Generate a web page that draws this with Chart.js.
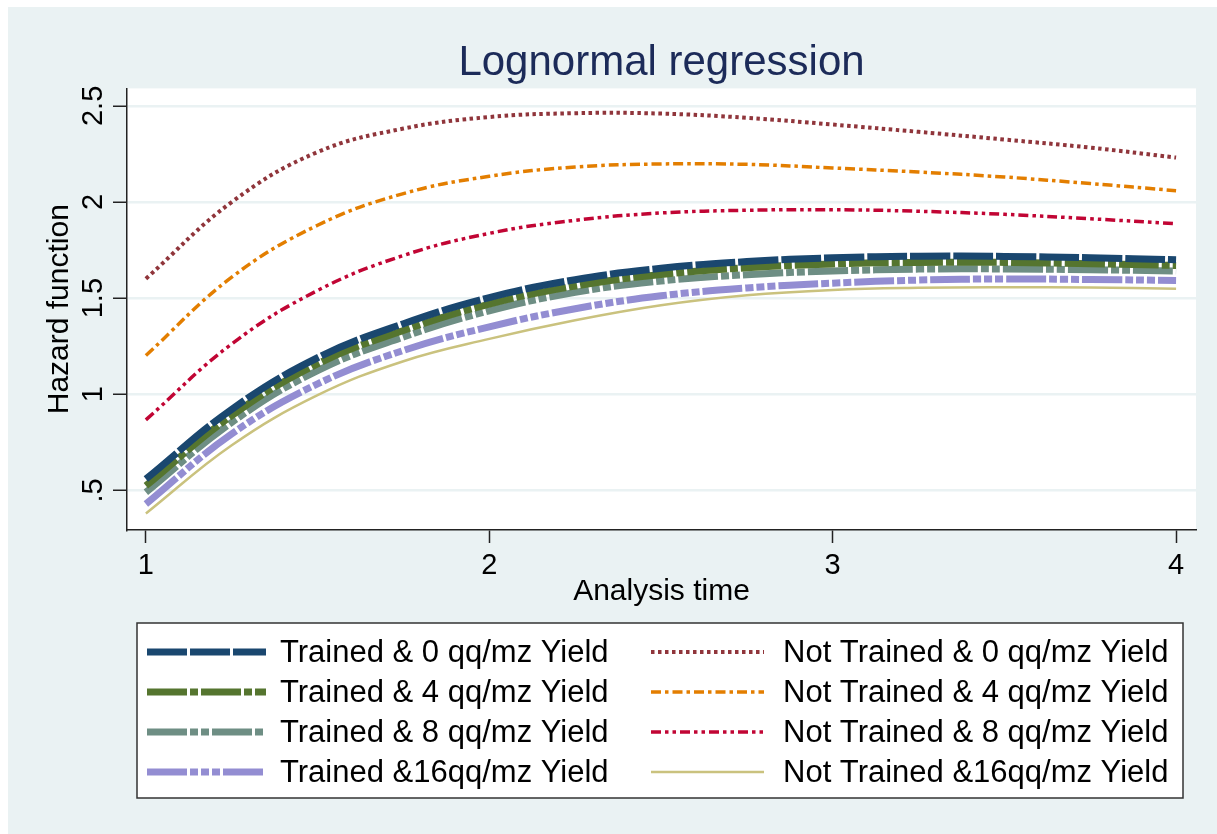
<!DOCTYPE html>
<html>
<head>
<meta charset="utf-8">
<title>Lognormal regression</title>
<script src="https://cdn.jsdelivr.net/npm/chart.js@4/dist/chart.umd.min.js"></script>
<style>
  html, body { margin: 0; padding: 0; background: #fff; }
  canvas { display: block; }
</style>
</head>
<body>
<canvas id="hazardChart" width="1217" height="834"></canvas>
<script>
// analysis time grid the curves were read at
const times = [1, 1.25, 1.5, 1.75, 2, 2.25, 2.5, 2.75, 3, 3.25, 3.5, 3.75, 4];

// hazard function, trained farmers
const trained0  = [0.559, 0.922, 1.190, 1.367, 1.503, 1.596, 1.655, 1.690, 1.710, 1.718, 1.717, 1.710, 1.700];
const trained4  = [0.524, 0.889, 1.158, 1.332, 1.469, 1.563, 1.623, 1.658, 1.678, 1.686, 1.686, 1.679, 1.670];
const trained8  = [0.490, 0.854, 1.123, 1.298, 1.434, 1.530, 1.589, 1.622, 1.641, 1.651, 1.652, 1.648, 1.641];
const trained16 = [0.429, 0.794, 1.054, 1.228, 1.351, 1.445, 1.512, 1.553, 1.578, 1.594, 1.600, 1.597, 1.592];

// hazard function, farmers not trained
const notTrained0  = [1.601, 2.000, 2.260, 2.382, 2.442, 2.462, 2.460, 2.438, 2.403, 2.365, 2.325, 2.283, 2.231];
const notTrained4  = [1.202, 1.609, 1.879, 2.044, 2.134, 2.182, 2.198, 2.196, 2.177, 2.156, 2.130, 2.096, 2.059];
const notTrained8  = [0.867, 1.262, 1.540, 1.722, 1.837, 1.905, 1.943, 1.957, 1.960, 1.952, 1.936, 1.913, 1.887];
const notTrained16 = [0.380, 0.735, 0.995, 1.172, 1.288, 1.385, 1.463, 1.515, 1.543, 1.554, 1.557, 1.556, 1.549];

const seriesNames = [
  'Trained & 0 qq/mz Yield', 'Trained & 4 qq/mz Yield', 'Trained & 8 qq/mz Yield', 'Trained &16qq/mz Yield',
  'Not Trained & 0 qq/mz Yield', 'Not Trained & 4 qq/mz Yield', 'Not Trained & 8 qq/mz Yield', 'Not Trained &16qq/mz Yield'
];

const xTickVals = [1, 2, 3, 4];
const xTickLabels = ['1', '2', '3', '4'];
const yTickVals = [0.5, 1, 1.5, 2, 2.5];
const yTickLabels = ['.5', '1', '1.5', '2', '2.5'];

const FONT = 'Liberation Sans, Arial, Helvetica, sans-serif';
const REGION_BG = '#eaf2f3';

Chart.defaults.font.family = FONT;
Chart.defaults.color = '#000';

function line(label, data, color, width, dash) {
  return {
    label: label,
    data: data,
    borderColor: color,
    backgroundColor: color,
    borderWidth: width,
    borderDash: dash,
    borderCapStyle: 'butt',
    pointRadius: 0,
    fill: false,
    tension: 0.4
  };
}

const datasets = [
  line(seriesNames[0], trained0,  '#1a476f', 7, [40, 3]),
  line(seriesNames[1], trained4,  '#55752f', 7, [40, 3, 8, 3]),
  line(seriesNames[2], trained8,  '#6e8e84', 7, [40, 3, 8, 3, 8, 3]),
  line(seriesNames[3], trained16, '#938dd2', 7, [40, 3, 8, 3, 8, 3, 8, 3]),
  line(seriesNames[4], notTrained0,  '#90353b', 4, [3.5, 3.5]),
  line(seriesNames[5], notTrained4,  '#e37e00', 3.5, [10, 4, 3.5, 4]),
  line(seriesNames[6], notTrained8,  '#c10534', 3.5, [10, 4, 3.5, 4, 3.5, 4]),
  line(seriesNames[7], notTrained16, '#cac27e', 2.5, [])
];

// background of the graph region and the white plot region
const backdrop = {
  id: 'backdrop',
  beforeDraw(chart) {
    const { ctx, chartArea: a } = chart;
    ctx.save();
    ctx.fillStyle = '#fff';
    ctx.fillRect(0, 0, chart.width, chart.height);
    ctx.fillStyle = REGION_BG;
    ctx.fillRect(8, 7, chart.width - 8, chart.height - 7);
    ctx.fillStyle = '#fff';
    ctx.fillRect(a.left, a.top, a.right - a.left, a.bottom - a.top);
    ctx.restore();
  }
};

// rotated y tick labels, Stata style
const yLabels = {
  id: 'yLabels',
  afterDraw(chart) {
    const { ctx, scales } = chart;
    const y = scales.y;
    ctx.save();
    ctx.fillStyle = '#000';
    ctx.font = '29px ' + FONT;
    ctx.textAlign = 'center';
    ctx.textBaseline = 'alphabetic';
    yTickVals.forEach((v, i) => {
      ctx.save();
      ctx.translate(102, y.getPixelForValue(v));
      ctx.rotate(-Math.PI / 2);
      ctx.fillText(yTickLabels[i], 0, 0);
      ctx.restore();
    });
    ctx.restore();
  }
};

// two-column legend box under the plot
const boxLegend = {
  id: 'boxLegend',
  afterDraw(chart) {
    const { ctx } = chart;
    const box = { left: 137, top: 623, right: 1183, bottom: 798 };
    const rows = [652, 692, 732, 772];
    const cols = [
      { x0: 147, x1: 266, text: 280 },
      { x0: 651, x1: 764, text: 783 }
    ];
    ctx.save();
    ctx.fillStyle = '#fff';
    ctx.fillRect(box.left, box.top, box.right - box.left, box.bottom - box.top);
    ctx.strokeStyle = '#333';
    ctx.lineWidth = 1.5;
    ctx.strokeRect(box.left, box.top, box.right - box.left, box.bottom - box.top);

    ctx.font = '31px ' + FONT;
    ctx.textBaseline = 'middle';
    ctx.textAlign = 'left';
    chart.data.datasets.forEach((ds, i) => {
      const col = cols[Math.floor(i / 4)];
      const yy = rows[i % 4];
      ctx.beginPath();
      ctx.setLineDash(ds.borderDash);
      ctx.lineCap = 'butt';
      ctx.lineWidth = ds.borderWidth;
      ctx.strokeStyle = ds.borderColor;
      ctx.moveTo(col.x0, yy);
      ctx.lineTo(col.x1, yy);
      ctx.stroke();
      ctx.setLineDash([]);
      ctx.fillStyle = '#000';
      ctx.fillText(ds.label, col.text, yy + 1);
    });
    ctx.restore();
  }
};

new Chart(document.getElementById('hazardChart'), {
  type: 'line',
  data: { labels: times, datasets: datasets },
  plugins: [backdrop, yLabels, boxLegend],
  options: {
    responsive: false,
    animation: false,
    events: [],
    layout: { padding: { left: 42, right: 21, top: 7, bottom: 224 } },
    plugins: {
      legend: { display: false },
      tooltip: { enabled: false },
      title: {
        display: true,
        text: 'Lognormal regression',
        fullSize: false,
        color: '#1c2b59',
        font: { size: 42, weight: 'normal' },
        padding: { top: 31, bottom: 0 }
      }
    },
    scales: {
      x: {
        type: 'linear',
        min: 0.945,
        max: 4.058,
        afterBuildTicks: s => { s.ticks = xTickVals.map(v => ({ value: v })); },
        afterFit: s => { s.height = 80; },
        grid: { drawOnChartArea: false, drawTicks: true, tickLength: 13, tickColor: '#222', tickWidth: 1.5 },
        border: { color: '#222', width: 1.5 },
        ticks: {
          padding: 6,
          color: '#000',
          maxRotation: 0,
          autoSkip: false,
          font: { size: 29 },
          callback: (v, i) => xTickLabels[i]
        },
        title: { display: true, text: 'Analysis time', color: '#000', font: { size: 30 }, padding: 0 }
      },
      y: {
        type: 'linear',
        min: 0.294,
        max: 2.591,
        afterBuildTicks: s => { s.ticks = yTickVals.map(v => ({ value: v })); },
        afterFit: s => { s.width = 85; },
        grid: { color: REGION_BG, lineWidth: 2.5, drawTicks: true, tickLength: 14, tickColor: '#222', tickWidth: 1.5 },
        border: { color: '#222', width: 1.5 },
        ticks: { display: false },
        title: { display: true, text: 'Hazard function', color: '#000', font: { size: 30 }, padding: 0 }
      }
    }
  }
});
</script>
</body>
</html>
